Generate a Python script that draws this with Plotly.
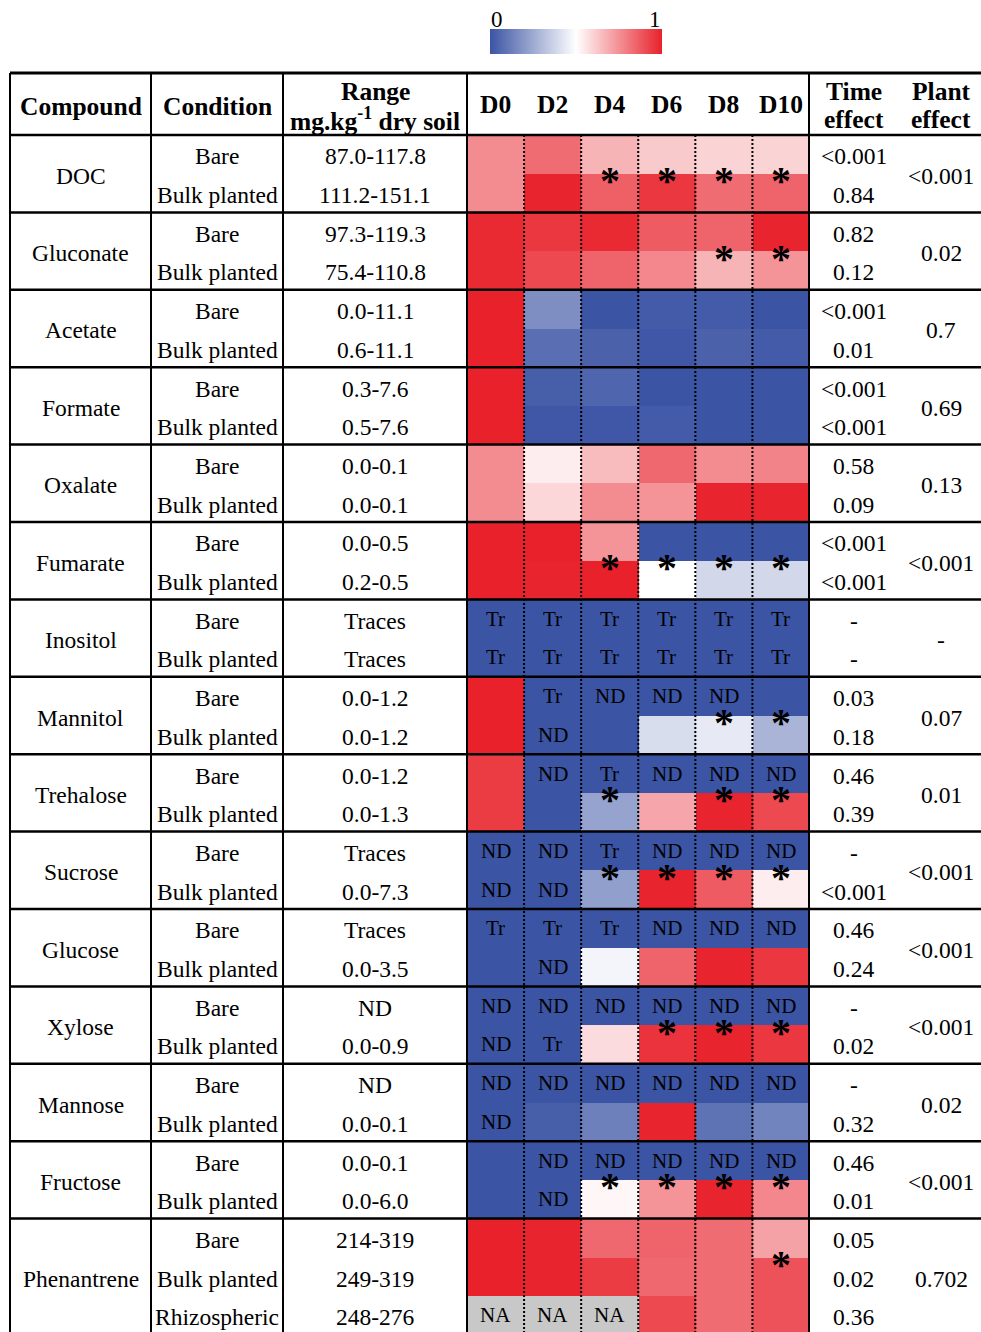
import plotly.graph_objects as go

# ---------------- data ----------------
days = ["D0", "D2", "D4", "D6", "D8", "D10"]
cond2 = ["Bare", "Bulk planted"]
cond3 = ["Bare", "Bulk planted", "Rhizospheric"]

compounds = ["DOC", "Gluconate", "Acetate", "Formate", "Oxalate", "Fumarate", "Inositol",
             "Mannitol", "Trehalose", "Sucrose", "Glucose", "Xylose", "Mannose", "Fructose",
             "Phenantrene"]

ranges = [
    ["87.0-117.8", "111.2-151.1"], ["97.3-119.3", "75.4-110.8"], ["0.0-11.1", "0.6-11.1"],
    ["0.3-7.6", "0.5-7.6"], ["0.0-0.1", "0.0-0.1"], ["0.0-0.5", "0.2-0.5"], ["Traces", "Traces"],
    ["0.0-1.2", "0.0-1.2"], ["0.0-1.2", "0.0-1.3"], ["Traces", "0.0-7.3"], ["Traces", "0.0-3.5"],
    ["ND", "0.0-0.9"], ["ND", "0.0-0.1"], ["0.0-0.1", "0.0-6.0"], ["214-319", "249-319", "248-276"],
]
time_effect = [
    ["&lt;0.001", "0.84"], ["0.82", "0.12"], ["&lt;0.001", "0.01"], ["&lt;0.001", "&lt;0.001"],
    ["0.58", "0.09"], ["&lt;0.001", "&lt;0.001"], ["-", "-"], ["0.03", "0.18"], ["0.46", "0.39"],
    ["-", "&lt;0.001"], ["0.46", "0.24"], ["-", "0.02"], ["-", "0.32"], ["0.46", "0.01"],
    ["0.05", "0.02", "0.36"],
]
plant_effect = ["&lt;0.001", "0.02", "0.7", "0.69", "0.13", "&lt;0.001", "-", "0.07", "0.01",
                "&lt;0.001", "&lt;0.001", "&lt;0.001", "0.02", "&lt;0.001", "0.702"]

# normalised values (0 = min, 1 = max), rows = conditions, columns = days
z_doc = [[0.76, 0.83, 0.67, 0.62, 0.60, 0.60], [0.76, 0.99, 0.86, 0.95, 0.83, 0.85]]
z_gluconate = [[0.98, 0.95, 0.98, 0.87, 0.85, 0.99], [0.98, 0.91, 0.85, 0.77, 0.67, 0.74]]
z_acetate = [[1.0, 0.17, 0.0, 0.02, 0.02, 0.0], [1.0, 0.08, 0.04, 0.01, 0.04, 0.02]]
z_formate = [[1.0, 0.03, 0.05, 0.0, 0.0, 0.0], [1.0, 0.01, 0.01, 0.02, 0.0, 0.0]]
z_oxalate = [[0.76, 0.54, 0.65, 0.84, 0.76, 0.78], [0.76, 0.59, 0.76, 0.74, 0.99, 0.99]]
z_fumarate = [[1.0, 1.0, 0.74, 0.0, 0.0, 0.0], [1.0, 0.99, 1.0, 0.5, 0.385, 0.385]]
z_inositol = [[0, 0, 0, 0, 0, 0], [0, 0, 0, 0, 0, 0]]
z_mannitol = [[1.0, 0, 0, 0, 0, 0], [1.0, 0, 0, 0.40, 0.44, 0.28]]
z_trehalose = [[0.94, 0, 0, 0, 0, 0], [0.94, 0, 0.23, 0.70, 0.99, 0.91]]
z_sucrose = [[0, 0, 0, 0, 0, 0], [0, 0, 0.22, 0.99, 0.87, 0.54]]
z_glucose = [[0, 0, 0, 0, 0, 0], [0, 0, 0.47, 0.85, 0.99, 0.95]]
z_xylose = [[0, 0, 0, 0, 0, 0], [0, 0, 0.58, 0.96, 0.99, 0.95]]
z_mannose = [[0, 0, 0, 0, 0, 0], [0, 0.03, 0.13, 0.99, 0.09, 0.14]]
z_fructose = [[0, 0, 0, 0, 0, 0], [0, 0, 0.52, 0.74, 0.99, 0.77]]
z_phen = [[1.0, 0.99, 0.84, 0.85, 0.83, 0.71], [1.0, 0.99, 0.94, 0.84, 0.83, 0.89],
          [None, None, None, 0.91, 0.83, 0.89]]

E = ["", "", "", "", "", ""]
lab_inositol = [["Tr"] * 6, ["Tr"] * 6]
lab_mannitol = [["", "Tr", "ND", "ND", "ND", ""], ["", "ND", "", "", "", ""]]
lab_trehalose = [["", "ND", "Tr", "ND", "ND", "ND"], E]
lab_sucrose = [["ND", "ND", "Tr", "ND", "ND", "ND"], ["ND", "ND", "", "", "", ""]]
lab_glucose = [["Tr", "Tr", "Tr", "ND", "ND", "ND"], ["", "ND", "", "", "", ""]]
lab_xylose = [["ND"] * 6, ["ND", "Tr", "", "", "", ""]]
lab_mannose = [["ND"] * 6, ["ND", "", "", "", "", ""]]
lab_fructose = [["", "ND", "ND", "ND", "ND", "ND"], ["", "ND", "", "", "", ""]]
lab_phen = [E, E, ["NA", "NA", "NA", "", "", ""]]

# significant bare vs planted difference (asterisk) per day
sig_doc = [0, 0, 1, 1, 1, 1]
sig_gluconate = [0, 0, 0, 0, 1, 1]
sig_fumarate = [0, 0, 1, 1, 1, 1]
sig_mannitol = [0, 0, 0, 0, 1, 1]
sig_trehalose = [0, 0, 1, 0, 1, 1]
sig_sucrose = [0, 0, 1, 1, 1, 1]
sig_xylose = [0, 0, 0, 1, 1, 1]
sig_fructose = [0, 0, 1, 1, 1, 1]
sig_phen = [0, 0, 0, 0, 0, 1]
NOSIG = [0] * 6

z_blocks = [z_doc, z_gluconate, z_acetate, z_formate, z_oxalate, z_fumarate, z_inositol,
            z_mannitol, z_trehalose, z_sucrose, z_glucose, z_xylose, z_mannose, z_fructose, z_phen]
lab_blocks = [[E, E]] * 6 + [lab_inositol, lab_mannitol, lab_trehalose, lab_sucrose,
                              lab_glucose, lab_xylose, lab_mannose, lab_fructose, lab_phen]
sig_blocks = [sig_doc, sig_gluconate, NOSIG, NOSIG, NOSIG, sig_fumarate, NOSIG, sig_mannitol,
              sig_trehalose, sig_sucrose, NOSIG, sig_xylose, NOSIG, sig_fructose, sig_phen]

# ---------------- geometry / style ----------------
W, H = 981, 1332
TOP, HEAD_BOT = 73, 135
ROW_H = 38.7
X_LEFT, X_COND, X_RANGE, X_HEAT0, X_HEAT1 = 10, 151, 283, 467, 809.5
C_COMP, C_COND, C_RANGE, C_TIME, C_PLANT = 80.5, 217, 375, 853.5, 941
FONT = "Liberation Serif, Times New Roman, serif"
BLUE, RED = "rgb(59,84,164)", "rgb(232,33,43)"
BODY, HEAD, CELL = 23.5, 25.5, 21


def px(x):
    return x / W


def py(y):
    return 1 - y / H


z = [row for blk in z_blocks for row in blk]
labels = [row for blk in lab_blocks for row in blk]
na_mask = [[1 if t == "NA" else None for t in row] for row in labels]
n_rows = len(z)
rows_idx = list(range(n_rows))
cols_idx = list(range(len(days)))

fig = go.Figure()
fig.add_trace(go.Heatmap(
    z=z, x=cols_idx, y=rows_idx, zmin=0, zmax=1,
    colorscale=[[0, BLUE], [0.5, "rgb(255,255,255)"], [1, RED]],
    hoverinfo="skip",
    colorbar=dict(orientation="h", x=px(490), xanchor="left", y=py(29), yanchor="top",
                  len=172, lenmode="pixels", thickness=25, thicknessmode="pixels",
                  outlinewidth=0, showticklabels=False, ticks="", xpad=0, ypad=0),
))
fig.add_trace(go.Heatmap(
    z=na_mask, x=cols_idx, y=rows_idx, zmin=0, zmax=1, showscale=False, hoverinfo="skip",
    colorscale=[[0, "rgb(200,200,200)"], [1, "rgb(200,200,200)"]],
))

ann = []


def text(t, x, y, size, xref="paper", yref="paper", yshift=0, bold=False):
    ann.append(dict(text=("<b>%s</b>" % t) if bold else t, x=x, y=y, xref=xref, yref=yref,
                    showarrow=False, xanchor="center", yanchor="middle", yshift=yshift,
                    font=dict(family=FONT, size=size, color="black")))


# colorbar labels
text("0", px(497.5), py(19), 23)
text("1", px(655), py(19), 23)

# header
text("Compound", px(C_COMP), py(106.5), HEAD, bold=True)
text("Condition", px(C_COND), py(106.5), HEAD, bold=True)
text("Range", px(C_RANGE), py(91.5), HEAD, bold=True)
text("mg.kg<sup>-1</sup> dry soil", px(C_RANGE), py(119.5), HEAD, bold=True)
for i, d in enumerate(days):
    text(d, i, py(105), HEAD, xref="x", bold=True)
text("Time", px(C_TIME), py(91.5), HEAD, bold=True)
text("effect", px(C_TIME), py(120), HEAD, bold=True)
text("Plant", px(C_PLANT), py(91.5), HEAD, bold=True)
text("effect", px(C_PLANT), py(120), HEAD, bold=True)

shapes = []


def line(x0, y0, x1, y1, xref="paper", yref="paper", width=2.5, dash="solid"):
    shapes.append(dict(type="line", x0=x0, y0=y0, x1=x1, y1=y1, xref=xref, yref=yref,
                       line=dict(color="black", width=width, dash=dash)))


start = 0
for b, name in enumerate(compounds):
    nsub = len(z_blocks[b])
    conds = cond3 if nsub == 3 else cond2
    mid = start + (nsub - 1) / 2
    text(name, px(C_COMP), mid, BODY, yref="y", yshift=-2)
    text(plant_effect[b], px(C_PLANT), mid, BODY, yref="y", yshift=-2)
    for s in range(nsub):
        r = start + s
        text(conds[s], px(C_COND), r, BODY, yref="y", yshift=-2)
        text(ranges[b][s], px(C_RANGE), r, BODY, yref="y", yshift=-2)
        text(time_effect[b][s], px(C_TIME), r, BODY, yref="y", yshift=-2)
        for c, t in enumerate(labels[r]):
            if t:
                text(t, c, r, CELL, xref="x", yref="y")
    for c, sflag in enumerate(sig_blocks[b]):
        if sflag:
            text("*", c, start + 0.5, 40, xref="x", yref="y", yshift=-7, bold=True)
    if b > 0:
        line(px(X_LEFT), start - 0.5, 1, start - 0.5, yref="y", width=2.5)
    start += nsub

# horizontal header lines
line(px(X_LEFT), py(TOP), 1, py(TOP), width=3)
line(px(X_LEFT), py(HEAD_BOT), 1, py(HEAD_BOT), width=2.5)
# vertical solid lines
for xv in [X_LEFT, X_COND, X_RANGE, X_HEAT0, X_HEAT1 - 0.5]:
    line(px(xv), py(TOP), px(xv), 0, width=2)
# dotted day separators
for k in range(1, len(days)):
    line(k - 0.5, py(HEAD_BOT), k - 0.5, 0, xref="x", width=2, dash="2px,2px")

y_bottom = (H - HEAD_BOT) / ROW_H - 0.5
fig.update_layout(
    width=W, height=H, margin=dict(l=0, r=0, t=0, b=0),
    paper_bgcolor="white", plot_bgcolor="white",
    xaxis=dict(domain=[px(X_HEAT0), px(X_HEAT1)], range=[-0.5, len(days) - 0.5],
               visible=False, fixedrange=True),
    yaxis=dict(domain=[0, py(HEAD_BOT)], range=[y_bottom, -0.5], visible=False, fixedrange=True),
    annotations=ann, shapes=shapes, showlegend=False,
)
fig.write_html("out.html", config={"displayModeBar": False},
               post_script="document.body.style.margin='0px';document.body.style.overflow='hidden';")
